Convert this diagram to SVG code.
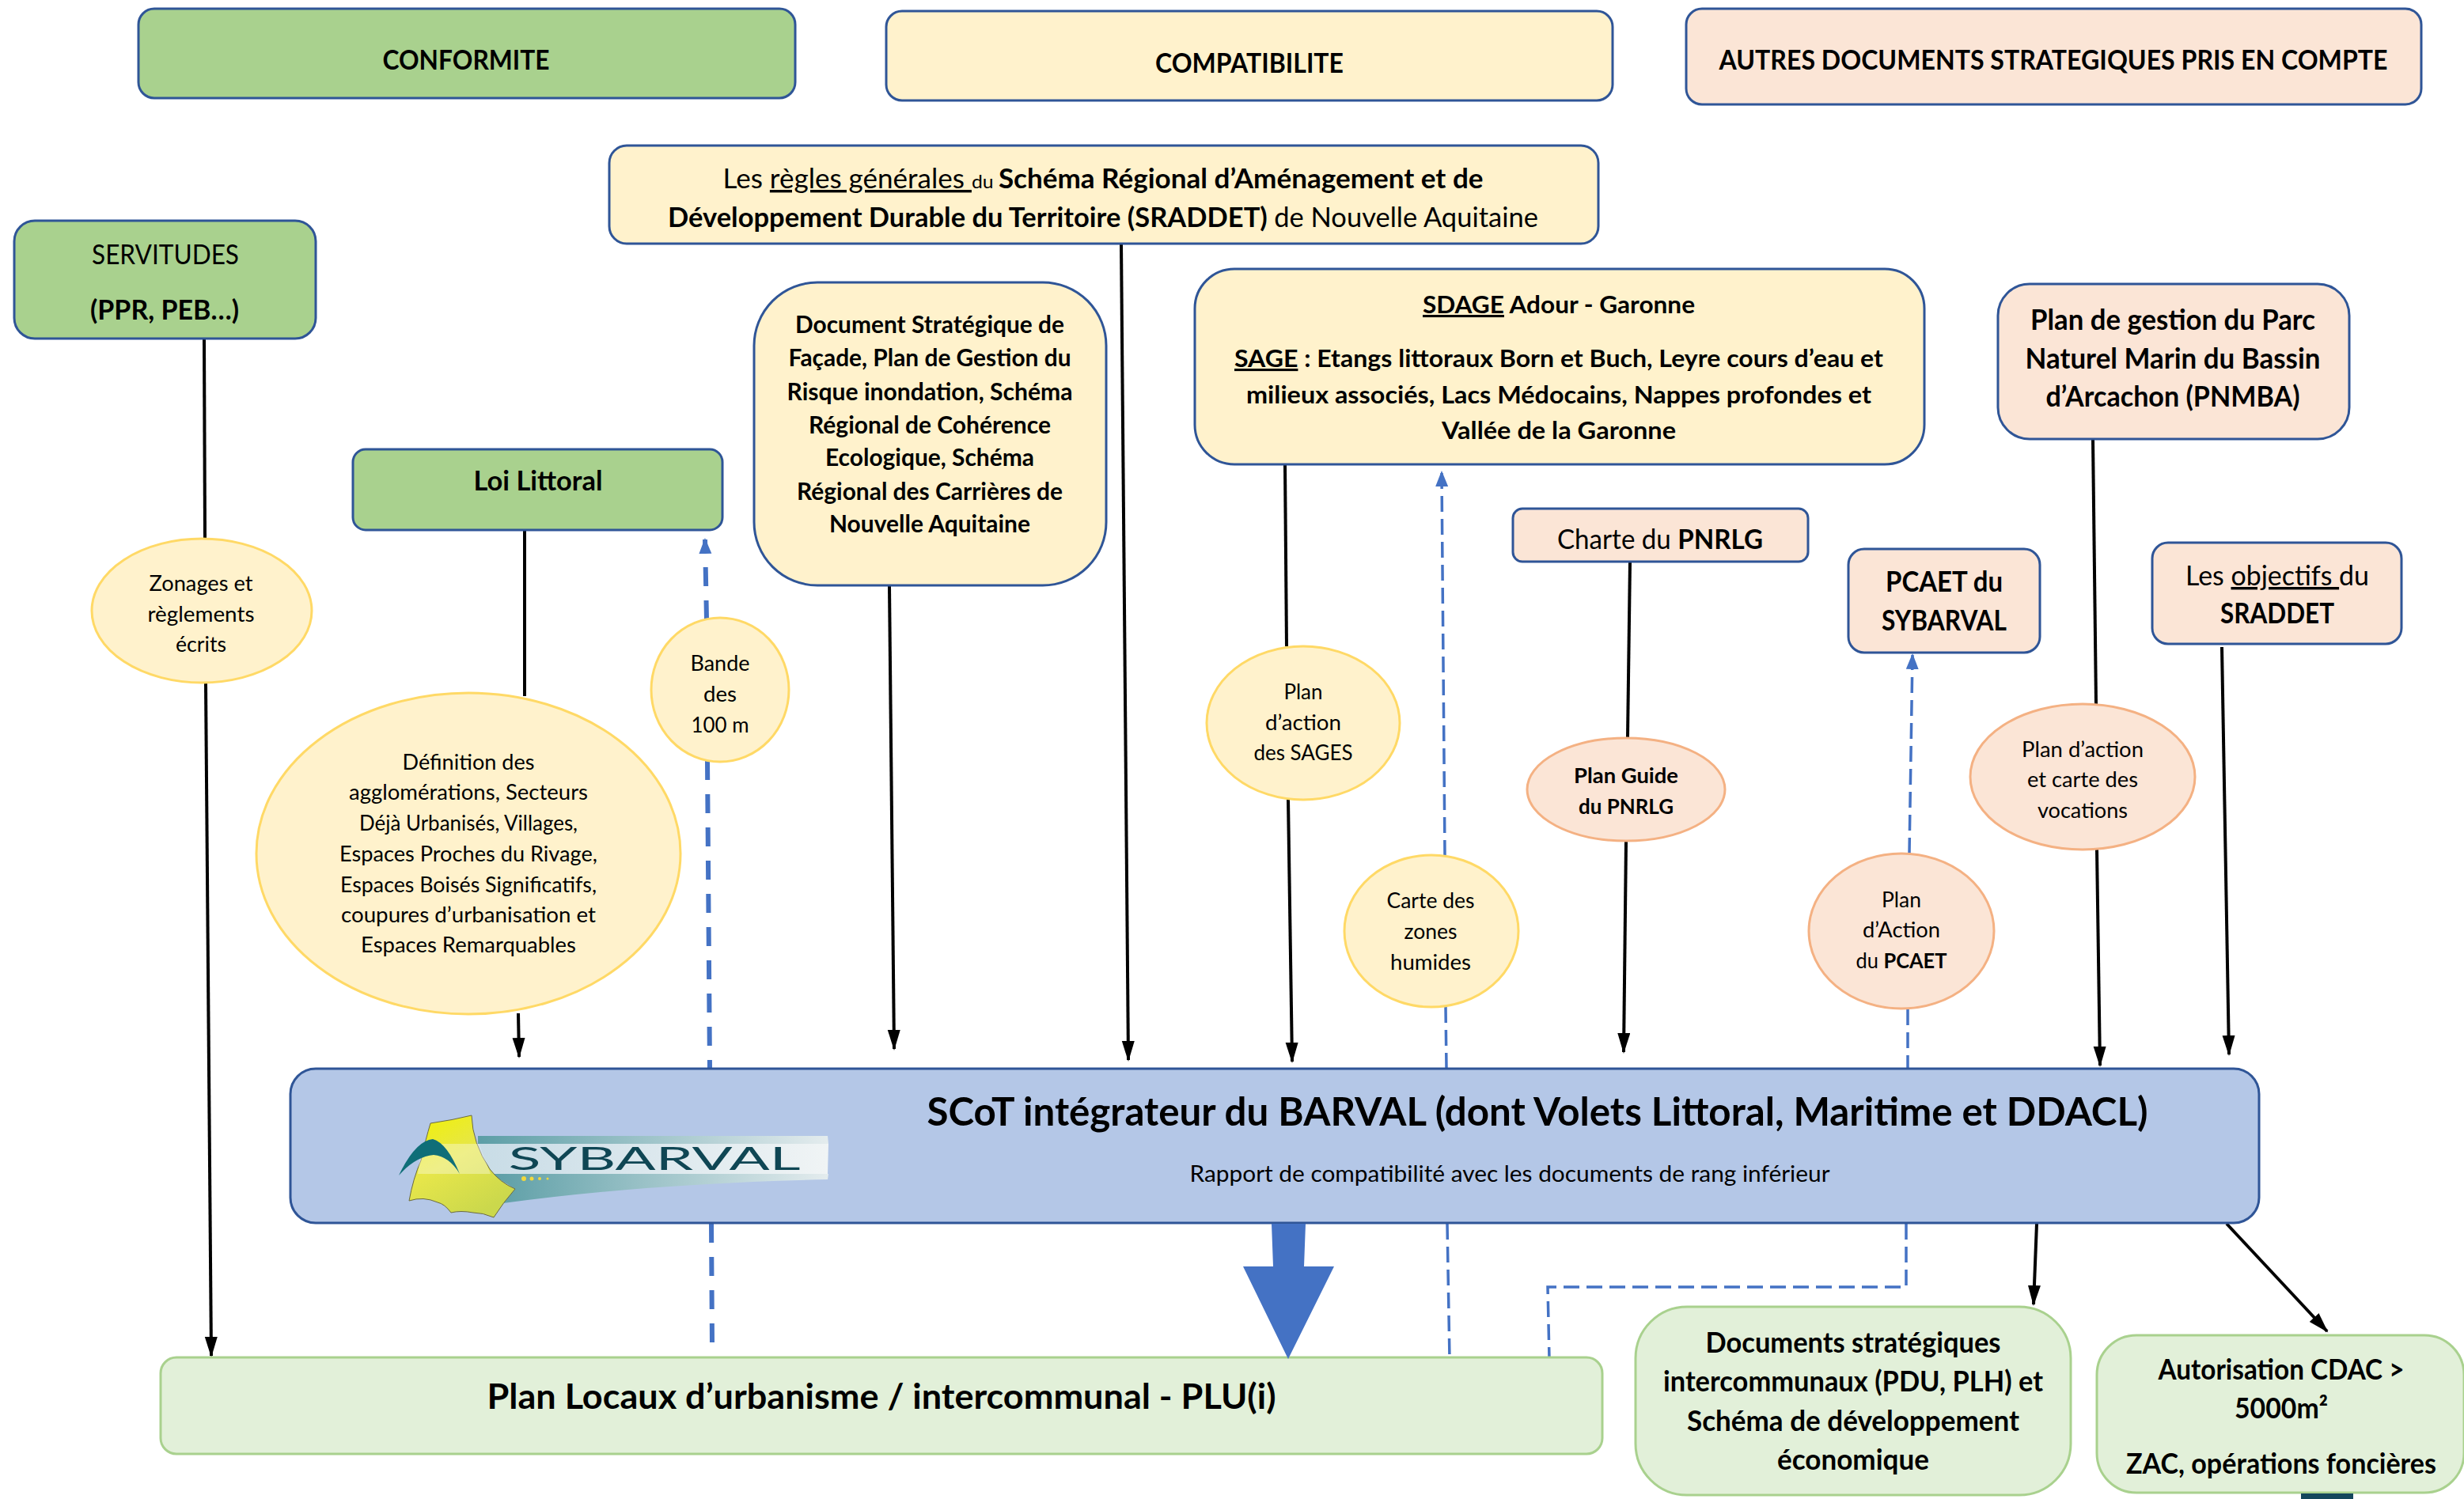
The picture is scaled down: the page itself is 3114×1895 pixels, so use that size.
<svg xmlns="http://www.w3.org/2000/svg" width="3114" height="1895" viewBox="0 0 3114 1895">
<style>
text{font-family:Lato,"Open Sans","Liberation Sans",sans-serif;fill:#000;text-anchor:middle}
.b{font-weight:700}.u{text-decoration:underline}
.s22{font-size:27px}.s30{font-size:31px}.s36{font-size:36px}
.box{stroke:#2F5597;stroke-width:3}
.g{fill:#A9D18E}.y{fill:#FFF2CC}.p{fill:#FBE5D6}
.lg{fill:#E2F0D9;stroke:#A9D18E;stroke-width:3}
.ey{fill:#FFF2CC;stroke:#FFD966;stroke-width:3}
.ep{fill:#FBE5D6;stroke:#F4B183;stroke-width:3}
.k{fill:none;stroke:#000;stroke-width:4}
.d{fill:none;stroke:#4472C4;stroke-width:3.5;stroke-dasharray:20 9}
.d2{fill:none;stroke:#4472C4;stroke-width:6;stroke-dasharray:24 18}
</style>
<defs>
<marker id="ak" markerUnits="userSpaceOnUse" markerWidth="28" markerHeight="18" refX="24" refY="8" orient="auto"><path d="M0 0L26 8L0 16Z" fill="#000"/></marker>
<marker id="ab" markerUnits="userSpaceOnUse" markerWidth="26" markerHeight="18" refX="18" refY="8" orient="auto"><path d="M0 0L20 8L0 16Z" fill="#4472C4"/></marker>
<linearGradient id="lgS" x1="0" y1="0" x2="0.6" y2="1"><stop offset="0" stop-color="#F2F200"/><stop offset=".5" stop-color="#E6E64A"/><stop offset="1" stop-color="#CBD84C"/></linearGradient>
<linearGradient id="lgB" x1="0" y1="0" x2="1" y2="0"><stop offset="0" stop-color="#5C9EA6"/><stop offset="1" stop-color="#E4ECEE"/></linearGradient>
<linearGradient id="lgM" x1="0" y1="0" x2="1" y2="0"><stop offset="0" stop-color="#C8DCE6"/><stop offset="1" stop-color="#F0F4F5"/></linearGradient>
</defs>
<g id="connectors">
<path class="k" d="M258 428L259 680"/>
<path class="k" d="M260 864L267 1714" marker-end="url(#ak)"/>
<path class="k" d="M663 670L663 880"/>
<path class="k" d="M655 1281L656 1336" marker-end="url(#ak)"/>
<path class="k" d="M1124 741L1130 1326" marker-end="url(#ak)"/>
<path class="k" d="M1417 308L1426 1340" marker-end="url(#ak)"/>
<path class="k" d="M1624 587L1626 817"/>
<path class="k" d="M1628 1011L1633 1342" marker-end="url(#ak)"/>
<path class="k" d="M2060 710L2057 932"/>
<path class="k" d="M2055 1064L2052 1330" marker-end="url(#ak)"/>
<path class="k" d="M2645 555L2649 890"/>
<path class="k" d="M2650 1074L2654 1347" marker-end="url(#ak)"/>
<path class="k" d="M2808 818L2817 1333" marker-end="url(#ak)"/>
<path class="k" d="M2574 1547L2570 1649" marker-end="url(#ak)"/>
<path class="k" d="M2814 1547L2941 1683" marker-end="url(#ak)"/>
<path class="d2" d="M893 783L891 682" marker-end="url(#ab)"/>
<path class="d2" d="M894 962L897 1351"/>
<path class="d2" d="M899 1547L900 1700"/>
<path class="d" d="M1826 1082L1822 597" marker-end="url(#ab)"/>
<path class="d" d="M1827 1273L1828 1350"/>
<path class="d" d="M1829 1547L1832 1718"/>
<path class="d" d="M2413 1079L2417 828" marker-end="url(#ab)"/>
<path class="d" d="M2411 1276L2411 1350"/>
<path class="d" d="M2409 1547L2409 1627L1956 1627L1958 1718"/>
</g>
<g id="conformite"><rect class="box g" x="175" y="11" width="830" height="113" rx="20"/><text class="b" x="589" y="88" font-size="34" textLength="211" lengthAdjust="spacingAndGlyphs">CONFORMITE</text></g>
<g id="compatibilite"><rect class="box y" x="1120" y="14" width="918" height="113" rx="20"/><text class="b" x="1579" y="92" font-size="34" textLength="238" lengthAdjust="spacingAndGlyphs">COMPATIBILITE</text></g>
<g id="autres"><rect class="box p" x="2131" y="11" width="929" height="121" rx="20"/><text class="b" x="2595" y="88" font-size="34" textLength="845" lengthAdjust="spacingAndGlyphs">AUTRES DOCUMENTS STRATEGIQUES PRIS EN COMPTE</text></g>
<g id="sraddet"><rect class="box y" x="770" y="184" width="1250" height="124" rx="22"/>
<text x="1394" y="238" font-size="34" textLength="961" lengthAdjust="spacingAndGlyphs">Les <tspan class="u">règles générales </tspan><tspan font-size="24">du </tspan><tspan class="b">Schéma Régional d’Aménagement et de</tspan></text>
<text x="1394" y="287" font-size="34" textLength="1100" lengthAdjust="spacingAndGlyphs"><tspan class="b">Développement Durable du Territoire (SRADDET) </tspan>de Nouvelle Aquitaine</text></g>
<g id="servitudes"><rect class="box g" x="18" y="279" width="381" height="149" rx="26"/><text x="209" y="334" font-size="34" textLength="186" lengthAdjust="spacingAndGlyphs">SERVITUDES</text><text class="b" x="208" y="404" font-size="34" textLength="188" lengthAdjust="spacingAndGlyphs">(PPR, PEB…)</text></g>
<g id="loi-littoral"><rect class="box g" x="446" y="568" width="467" height="102" rx="16"/><text class="b" x="680" y="620" font-size="34" textLength="163" lengthAdjust="spacingAndGlyphs">Loi Littoral</text></g>
<g id="doc-strategique"><rect class="box y" x="953" y="357" width="445" height="383" rx="80"/>
<g class="b s30">
<text x="1175" y="421" textLength="340" lengthAdjust="spacingAndGlyphs">Document Stratégique de</text>
<text x="1175" y="463" textLength="357" lengthAdjust="spacingAndGlyphs">Façade, Plan de Gestion du</text>
<text x="1175" y="506" textLength="361" lengthAdjust="spacingAndGlyphs">Risque inondation, Schéma</text>
<text x="1175" y="548" textLength="306" lengthAdjust="spacingAndGlyphs">Régional de Cohérence</text>
<text x="1175" y="589" textLength="264" lengthAdjust="spacingAndGlyphs">Ecologique, Schéma</text>
<text x="1175" y="632" textLength="336" lengthAdjust="spacingAndGlyphs">Régional des Carrières de</text>
<text x="1175" y="673" textLength="254" lengthAdjust="spacingAndGlyphs">Nouvelle Aquitaine</text>
</g></g>
<g id="sdage"><rect class="box y" x="1510" y="340" width="922" height="247" rx="50"/>
<g class="b s30">
<text x="1970" y="396" textLength="344" lengthAdjust="spacingAndGlyphs"><tspan class="u">SDAGE</tspan> Adour - Garonne</text>
<text x="1970" y="464" textLength="820" lengthAdjust="spacingAndGlyphs"><tspan class="u">SAGE</tspan> : Etangs littoraux Born et Buch, Leyre cours d’eau et</text>
<text x="1970" y="510" textLength="790" lengthAdjust="spacingAndGlyphs">milieux associés, Lacs Médocains, Nappes profondes et</text>
<text x="1970" y="555" textLength="296" lengthAdjust="spacingAndGlyphs">Vallée de la Garonne</text>
</g></g>
<g id="pnmba"><rect class="box p" x="2525" y="359" width="444" height="196" rx="40"/>
<g class="b s36">
<text x="2746" y="417" textLength="360" lengthAdjust="spacingAndGlyphs">Plan de gestion du Parc</text>
<text x="2746" y="466" textLength="373" lengthAdjust="spacingAndGlyphs">Naturel Marin du Bassin</text>
<text x="2746" y="514" textLength="321" lengthAdjust="spacingAndGlyphs">d’Arcachon (PNMBA)</text>
</g></g>
<g id="charte"><rect class="box p" x="1912" y="643" width="373" height="67" rx="12"/><text x="2098" y="694" font-size="34" textLength="260" lengthAdjust="spacingAndGlyphs">Charte du <tspan class="b">PNRLG</tspan></text></g>
<g id="pcaet"><rect class="box p" x="2336" y="694" width="242" height="131" rx="20"/><text class="b s36" x="2457" y="748" textLength="148" lengthAdjust="spacingAndGlyphs">PCAET du</text><text class="b s36" x="2457" y="797" textLength="158" lengthAdjust="spacingAndGlyphs">SYBARVAL</text></g>
<g id="objectifs"><rect class="box p" x="2720" y="686" width="315" height="128" rx="20"/><text x="2878" y="740" font-size="34" textLength="232" lengthAdjust="spacingAndGlyphs">Les <tspan class="u">objectifs </tspan>du</text><text class="b s36" x="2878" y="788" textLength="144" lengthAdjust="spacingAndGlyphs">SRADDET</text></g>
<g id="zonages" class="s22"><ellipse class="ey" cx="255" cy="772" rx="139" ry="91"/>
<text x="254" y="747" textLength="131" lengthAdjust="spacingAndGlyphs">Zonages et</text><text x="254" y="786" textLength="135" lengthAdjust="spacingAndGlyphs">règlements</text><text x="254" y="824" textLength="64" lengthAdjust="spacingAndGlyphs">écrits</text></g>
<g id="definition" class="s22"><ellipse class="ey" cx="592" cy="1079" rx="268" ry="203"/>
<text x="592" y="973" textLength="167" lengthAdjust="spacingAndGlyphs">Définition des</text>
<text x="592" y="1011" textLength="302" lengthAdjust="spacingAndGlyphs">agglomérations, Secteurs</text>
<text x="592" y="1050" textLength="276" lengthAdjust="spacingAndGlyphs">Déjà Urbanisés, Villages,</text>
<text x="592" y="1089" textLength="326" lengthAdjust="spacingAndGlyphs">Espaces Proches du Rivage,</text>
<text x="592" y="1128" textLength="324" lengthAdjust="spacingAndGlyphs">Espaces Boisés Significatifs,</text>
<text x="592" y="1166" textLength="322" lengthAdjust="spacingAndGlyphs">coupures d’urbanisation et</text>
<text x="592" y="1204" textLength="272" lengthAdjust="spacingAndGlyphs">Espaces Remarquables</text></g>
<g id="bande" class="s22"><ellipse class="ey" cx="910" cy="872" rx="87" ry="91"/>
<text x="910" y="848" textLength="75" lengthAdjust="spacingAndGlyphs">Bande</text><text x="910" y="887" textLength="42" lengthAdjust="spacingAndGlyphs">des</text><text x="910" y="926" textLength="73" lengthAdjust="spacingAndGlyphs">100 m</text></g>
<g id="plan-sages" class="s22"><ellipse class="ey" cx="1647" cy="914" rx="122" ry="97"/>
<text x="1647" y="884" textLength="49" lengthAdjust="spacingAndGlyphs">Plan</text><text x="1647" y="923" textLength="96" lengthAdjust="spacingAndGlyphs">d’action</text><text x="1647" y="961" textLength="125" lengthAdjust="spacingAndGlyphs">des SAGES</text></g>
<g id="carte-zones" class="s22"><ellipse class="ey" cx="1809" cy="1177" rx="110" ry="96"/>
<text x="1808" y="1148" textLength="111" lengthAdjust="spacingAndGlyphs">Carte des</text><text x="1808" y="1187" textLength="67" lengthAdjust="spacingAndGlyphs">zones</text><text x="1808" y="1226" textLength="102" lengthAdjust="spacingAndGlyphs">humides</text></g>
<g id="plan-guide" class="s22 b"><ellipse class="ep" cx="2055" cy="998" rx="125" ry="65"/>
<text x="2055" y="990" textLength="132" lengthAdjust="spacingAndGlyphs">Plan Guide</text><text x="2055" y="1029" textLength="120" lengthAdjust="spacingAndGlyphs">du PNRLG</text></g>
<g id="plan-pcaet" class="s22"><ellipse class="ep" cx="2403" cy="1177" rx="117" ry="98"/>
<text x="2403" y="1147" textLength="50" lengthAdjust="spacingAndGlyphs">Plan</text><text x="2403" y="1185" textLength="98" lengthAdjust="spacingAndGlyphs">d’Action</text><text x="2403" y="1224" textLength="115" lengthAdjust="spacingAndGlyphs">du <tspan class="b">PCAET</tspan></text></g>
<g id="plan-vocations" class="s22"><ellipse class="ep" cx="2632" cy="982" rx="142" ry="92"/>
<text x="2632" y="957" textLength="154" lengthAdjust="spacingAndGlyphs">Plan d’action</text><text x="2632" y="995" textLength="140" lengthAdjust="spacingAndGlyphs">et carte des</text><text x="2632" y="1034" textLength="114" lengthAdjust="spacingAndGlyphs">vocations</text></g>
<g id="scot"><rect x="367" y="1351" width="2488" height="195" rx="32" fill="#B4C7E7" class="box"/>
<text class="b" x="1943" y="1423" font-size="50" textLength="1543" lengthAdjust="spacingAndGlyphs">SCoT intégrateur du BARVAL (dont Volets Littoral, Maritime et DDACL)</text>
<text x="1908" y="1494" font-size="29" textLength="809" lengthAdjust="spacingAndGlyphs">Rapport de compatibilité avec les documents de rang inférieur</text></g>
<g id="logo">
<path d="M604 1436H1046L1047 1446H604Z" fill="url(#lgB)"/>
<path d="M604 1446H1047L1046 1484H620Z" fill="url(#lgM)"/>
<path d="M620 1484H1047L1046 1491Q820 1496 636 1521L651 1503Z" fill="url(#lgB)"/>
<path d="M544 1420Q572 1416 596 1410Q597 1445 619 1478Q632 1495 651 1503Q636 1520 624 1539Q610 1533 598 1533Q582 1530 570 1533Q562 1522 553 1520Q535 1512 517 1518Q522 1490 532 1467Q538 1440 544 1420Z" fill="url(#lgS)" stroke="#6B6B40" stroke-width="1"/>
<path d="M533 1446H605L620 1484H528Z" fill="#FFF" opacity=".35"/>
<path d="M504 1486Q525 1442 547 1440Q565 1445 581 1484Q568 1462 548 1460Q525 1462 504 1486Z" fill="#0F6E78"/>
<circle cx="662" cy="1490" r="3" fill="#F2D83C"/><circle cx="672" cy="1490" r="2.5" fill="#F2D83C"/><circle cx="682" cy="1490" r="2" fill="#F2D83C"/><circle cx="692" cy="1490" r="1.5" fill="#F2D83C"/>
<text x="827" y="1479" font-family="DejaVu Sans" font-size="41" textLength="369" lengthAdjust="spacingAndGlyphs" style="fill:#0F4654">SYBARVAL</text>
</g>
<g id="plu"><rect class="lg" x="203" y="1716" width="1822" height="122" rx="20"/><text class="b" x="1114" y="1781" font-size="44" textLength="997" lengthAdjust="spacingAndGlyphs">Plan Locaux d’urbanisme / intercommunal - PLU(i)</text></g>
<g id="docs"><rect class="lg" x="2067" y="1652" width="550" height="238" rx="65"/>
<g class="b s36">
<text x="2342" y="1710" textLength="373" lengthAdjust="spacingAndGlyphs">Documents stratégiques</text>
<text x="2342" y="1759" textLength="480" lengthAdjust="spacingAndGlyphs">intercommunaux (PDU, PLH) et</text>
<text x="2342" y="1809" textLength="420" lengthAdjust="spacingAndGlyphs">Schéma de développement</text>
<text x="2342" y="1858" textLength="192" lengthAdjust="spacingAndGlyphs">économique</text></g></g>
<g id="autorisation"><rect class="lg" x="2650" y="1688" width="464" height="199" rx="50"/>
<g class="b s36">
<text x="2883" y="1744" textLength="311" lengthAdjust="spacingAndGlyphs">Autorisation CDAC &gt;</text>
<text x="2883" y="1793" textLength="118" lengthAdjust="spacingAndGlyphs">5000m²</text>
<text x="2883" y="1863" textLength="392" lengthAdjust="spacingAndGlyphs">ZAC, opérations foncières</text></g></g>
<path id="big-arrow" d="M1607 1547H1650L1648 1601H1686L1628 1718L1571 1601H1609Z" fill="#4472C4"/>
<rect x="2908" y="1888" width="66" height="7" fill="#14475C"/>
</svg>
